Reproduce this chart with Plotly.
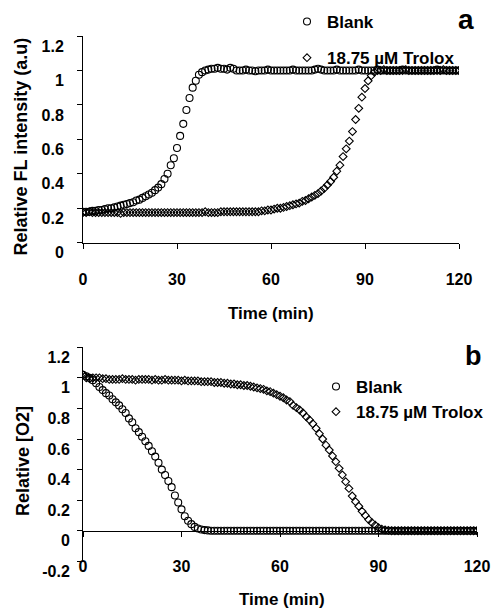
import plotly.graph_objects as go

# ---------------- data ----------------
time_min = list(range(0, 121))  # sampling every minute, 0..120 min

fl_blank = [
    0.18, 0.18, 0.18, 0.185, 0.185, 0.19, 0.19, 0.195, 0.20, 0.20,
    0.205, 0.21, 0.215, 0.22, 0.225, 0.23, 0.235, 0.245, 0.25, 0.26,
    0.27, 0.28, 0.29, 0.305, 0.32, 0.34, 0.37, 0.40, 0.45, 0.49,
    0.55, 0.62, 0.69, 0.77, 0.84, 0.90, 0.94, 0.975, 0.99, 1.0,
    1.005, 1.01, 1.01, 1.015, 1.01, 1.01, 1.005, 1.015, 1.01, 1.0,
    1.0, 1.0, 1.005, 1.0, 1.0, 0.995, 1.0, 1.0, 1.0, 1.005,
    1.0, 1.0, 1.0, 1.0, 1.0, 1.0, 1.0, 1.005, 1.0, 1.0,
    1.0, 1.0, 1.0, 1.0, 1.005, 1.01, 1.005, 1.0, 1.0, 1.0,
    1.0, 1.005, 1.0, 1.0, 1.0, 1.0, 1.0, 1.0, 1.005, 1.0,
    1.0, 1.0, 1.0, 1.0, 1.005, 1.0, 1.0, 1.0, 1.0, 1.0,
    1.0, 1.0, 1.005, 1.0, 1.0, 1.0, 1.0, 1.0, 1.0, 1.0,
    1.0, 1.0, 1.0, 1.005, 1.0, 1.0, 1.0, 1.0, 1.0, 1.0,
    1.0,
]

fl_trolox = [
    0.175, 0.175, 0.18, 0.175, 0.175, 0.175, 0.175, 0.175, 0.175, 0.175,
    0.175, 0.175, 0.17, 0.175, 0.175, 0.175, 0.175, 0.175, 0.175, 0.175,
    0.175, 0.175, 0.175, 0.175, 0.175, 0.175, 0.175, 0.175, 0.175, 0.175,
    0.175, 0.175, 0.175, 0.175, 0.175, 0.175, 0.175, 0.175, 0.175, 0.18,
    0.175, 0.175, 0.175, 0.175, 0.18, 0.18, 0.18, 0.18, 0.18, 0.18,
    0.18, 0.18, 0.18, 0.18, 0.18, 0.18, 0.18, 0.185, 0.185, 0.19,
    0.19, 0.195, 0.20, 0.20, 0.205, 0.21, 0.215, 0.22, 0.225, 0.23,
    0.24, 0.245, 0.255, 0.265, 0.275, 0.285, 0.30, 0.315, 0.335, 0.355,
    0.38, 0.415, 0.45, 0.50, 0.545, 0.59, 0.645, 0.715, 0.78, 0.845,
    0.895, 0.94, 0.97, 0.99, 1.0, 1.0, 1.005, 1.0, 1.0, 1.0,
    1.0, 1.0, 1.0, 1.005, 1.0, 1.0, 1.0, 1.0, 1.0, 1.0,
    1.0, 1.0, 1.0, 1.0, 1.0, 1.005, 1.0, 1.0, 1.0, 1.0,
    1.0,
]

o2_blank = [
    1.02, 1.01, 1.0, 0.985, 0.965, 0.94, 0.92, 0.90, 0.885, 0.86,
    0.84, 0.82, 0.795, 0.77, 0.735, 0.71, 0.67, 0.645, 0.615, 0.585,
    0.555, 0.52, 0.485, 0.445, 0.40, 0.365, 0.325, 0.285, 0.23, 0.185,
    0.14, 0.095, 0.065, 0.043, 0.025, 0.015, 0.008, 0.004, 0.002, 0.0,
    0.0, 0.0, 0.0, 0.0, 0.0, 0.0, 0.0, 0.0, 0.0, 0.0,
    0.0, 0.0, 0.0, 0.0, 0.0, 0.0, 0.0, 0.0, 0.0, 0.0,
    0.0, 0.0, 0.0, 0.0, 0.0, 0.0, 0.0, 0.0, 0.0, 0.0,
    0.0, 0.0, 0.0, 0.0, 0.0, 0.0, 0.0, 0.0, 0.0, 0.0,
    0.0, 0.0, 0.0, 0.0, 0.0, 0.0, 0.0, 0.0, 0.0, 0.0,
    0.0, 0.0, 0.0, 0.0, 0.0, 0.0, 0.0, 0.0, 0.0, 0.0,
    0.0, 0.0, 0.0, 0.0, 0.0, 0.0, 0.0, 0.0, 0.0, 0.0,
    0.0, 0.0, 0.0, 0.0, 0.0, 0.0, 0.0, 0.0, 0.0, 0.0,
    0.0,
]

o2_trolox = [
    1.02, 1.0, 0.995, 1.0, 1.0, 1.0, 0.995, 0.995, 0.99, 0.99,
    0.99, 0.99, 0.995, 0.99, 0.99, 0.99, 0.985, 0.99, 0.99, 0.99,
    0.99, 0.985, 0.99, 0.985, 0.985, 0.99, 0.985, 0.985, 0.985, 0.985,
    0.98, 0.985, 0.98, 0.98, 0.98, 0.98, 0.975, 0.975, 0.975, 0.975,
    0.97, 0.97, 0.97, 0.965, 0.965, 0.96, 0.96, 0.955, 0.955, 0.95,
    0.95, 0.945, 0.94, 0.935, 0.93, 0.925, 0.915, 0.91, 0.90, 0.89,
    0.88, 0.87, 0.855, 0.845, 0.82, 0.805, 0.79, 0.77, 0.745, 0.725,
    0.70, 0.67, 0.635, 0.60, 0.56, 0.528, 0.489, 0.452, 0.408, 0.365,
    0.321, 0.277, 0.227, 0.19, 0.16, 0.127, 0.10, 0.073, 0.053, 0.036,
    0.02, 0.01, 0.005, 0.002, 0.0, 0.0, 0.0, 0.0, 0.0, 0.0,
    0.0, 0.0, 0.0, 0.0, 0.0, 0.0, 0.0, 0.0, 0.0, 0.0,
    0.0, 0.0, 0.0, 0.0, 0.0, 0.0, 0.0, 0.0, 0.0, 0.0,
    0.0,
]

series_names = ["Blank", "18.75 \u00b5M Trolox"]
x_ticks = [0, 30, 60, 90, 120]
fl_ticks = [0, 0.2, 0.4, 0.6, 0.8, 1.0, 1.2]
fl_ticktext = ["0", "0.2", "0.4", "0.6", "0.8", "1", "1.2"]
o2_ticks = [-0.2, 0, 0.2, 0.4, 0.6, 0.8, 1.0, 1.2]
o2_ticktext = ["-0.2", "0", "0.2", "0.4", "0.6", "0.8", "1", "1.2"]

# ---------------- layout helpers ----------------
W, H = 494, 610
ML, MR, MT, MB = 60, 12, 30, 40
IW, IH = W - ML - MR, H - MT - MB
FONT = "Liberation Sans, Arial, sans-serif"


def fx(p):
    return (p - ML) / IW


def fy(p):
    return 1 - (p - MT) / IH


circle = dict(symbol="circle-open", size=7, color="black", line=dict(width=1.1, color="black"))
diamond = dict(symbol="diamond-open", size=6, color="black", line=dict(width=1.1, color="black"))

fig = go.Figure()

# panel a
fig.add_trace(go.Scatter(x=time_min, y=fl_blank, mode="markers", name=series_names[0],
                         marker=circle, xaxis="x", yaxis="y", legend="legend", legendgroup="a1"))
fig.add_trace(go.Scatter(x=time_min, y=fl_trolox, mode="markers", name=series_names[1],
                         marker=diamond, xaxis="x", yaxis="y", legend="legend", legendgroup="a2"))
# panel b
fig.add_trace(go.Scatter(x=time_min, y=o2_blank, mode="markers", name=series_names[0],
                         marker=circle, xaxis="x2", yaxis="y2", legend="legend2", legendgroup="b1"))
fig.add_trace(go.Scatter(x=time_min, y=o2_trolox, mode="markers", name=series_names[1],
                         marker=diamond, xaxis="x3", yaxis="y2", legend="legend2", legendgroup="b2"))

tickfont = dict(family=FONT, size=16, color="black", weight="bold")

# panel geometry (page pixels)
a_left, a_right, a_top, a_bot = 83, 459, 36, 242.7
b_left, b_right, b_top, b_bot = 83, 477, 347.3, 561.3
b_zero_frac = fy(b_bot) + (0.2 / 1.4) * (fy(b_top) - fy(b_bot))

fig.update_layout(
    width=W, height=H,
    autosize=False,
    margin=dict(l=ML, r=MR, t=MT, b=MB, pad=0, autoexpand=False),
    paper_bgcolor="white", plot_bgcolor="white",
    font=dict(family=FONT, color="black"),
    xaxis=dict(domain=[fx(a_left), fx(a_right)], range=[0, 120], tickvals=x_ticks,
               showline=True, linecolor="black", linewidth=1, ticks="outside", ticklen=5,
               tickcolor="black", showgrid=False, zeroline=False, tickfont=tickfont,
               ticklabelstandoff=17, anchor="y", automargin=False),
    yaxis=dict(domain=[fy(a_bot), fy(a_top)], range=[0, 1.2], tickvals=fl_ticks,
               ticktext=fl_ticktext, showline=True, linecolor="black", linewidth=1,
               ticks="outside", ticklen=5, tickcolor="black", showgrid=False, zeroline=False,
               tickfont=tickfont, ticklabelstandoff=10, ticklabelshift=10, anchor="x",
               automargin=False),
    xaxis2=dict(domain=[fx(b_left), fx(b_right)], range=[0, 120], tickvals=x_ticks,
                showline=False, ticks="", showgrid=False, zeroline=False, tickfont=tickfont,
                ticklabelstandoff=-6, anchor="y2", automargin=False),
    xaxis3=dict(domain=[fx(b_left), fx(b_right)], range=[0, 120], tickvals=x_ticks,
                overlaying="x2", anchor="free", position=b_zero_frac, side="bottom",
                showline=True, linecolor="black", linewidth=1, ticks="outside", ticklen=5,
                tickcolor="black", showticklabels=False, showgrid=False, zeroline=False,
                automargin=False),
    yaxis2=dict(domain=[fy(b_bot), fy(b_top)], range=[-0.2, 1.2], tickvals=o2_ticks,
                ticktext=o2_ticktext, showline=True, linecolor="black", linewidth=1,
                ticks="outside", ticklen=5, tickcolor="black", showgrid=False, zeroline=False,
                tickfont=tickfont, ticklabelstandoff=4, ticklabelshift=10, anchor="x2",
                automargin=False),
    legend=dict(x=fx(287), y=fy(4), xanchor="left", yanchor="top",
                font=dict(family=FONT, size=17, color="black", weight="bold"),
                bgcolor="rgba(0,0,0,0)", tracegroupgap=11),
    legend2=dict(x=fx(316), y=fy(369), xanchor="left", yanchor="top",
                 font=dict(family=FONT, size=17, color="black", weight="bold"),
                 bgcolor="rgba(0,0,0,0)", tracegroupgap=0),
    showlegend=True,
)

title_font = dict(family=FONT, size=17, color="black", weight="bold")
annotations = [
    dict(text="Time (min)", x=fx(271), y=fy(313), xref="paper", yref="paper",
         showarrow=False, font=title_font, xanchor="center", yanchor="middle"),
    dict(text="Time (min)", x=fx(282), y=fy(599), xref="paper", yref="paper",
         showarrow=False, font=title_font, xanchor="center", yanchor="middle"),
    dict(text="Relative FL intensity (a.u)", x=fx(20.5), y=fy(147), xref="paper", yref="paper",
         showarrow=False, font=dict(family=FONT, size=18, color="black", weight="bold"),
         textangle=-90, xanchor="center", yanchor="middle"),
    dict(text="Relative [O2]", x=fx(23), y=fy(461), xref="paper", yref="paper",
         showarrow=False, font=dict(family=FONT, size=18, color="black", weight="bold"),
         textangle=-90, xanchor="center", yanchor="middle"),
    dict(text="a", x=fx(466), y=fy(19), xref="paper", yref="paper", showarrow=False,
         font=dict(family=FONT, size=28, color="black", weight="bold"),
         xanchor="center", yanchor="middle"),
    dict(text="b", x=fx(473), y=fy(356), xref="paper", yref="paper", showarrow=False,
         font=dict(family=FONT, size=27, color="black", weight="bold"),
         xanchor="center", yanchor="middle"),
]
fig.update_layout(annotations=annotations)

fig.write_html(
    "out.html",
    config={"responsive": False, "displayModeBar": False},
    post_script="document.body.style.margin='0';document.body.style.padding='0';"
                "document.body.style.overflow='hidden';",
)
